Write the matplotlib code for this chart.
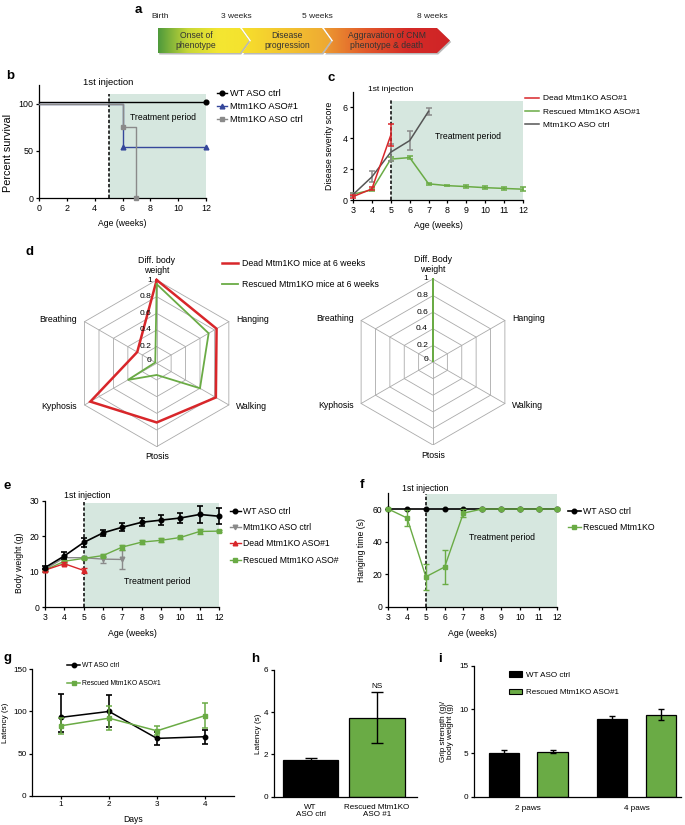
import numpy as np
import matplotlib
matplotlib.use("Agg")
import matplotlib.pyplot as plt
from matplotlib.patches import Polygon, Patch
from matplotlib.colors import LinearSegmentedColormap
from matplotlib.lines import Line2D

plt.rcParams['font.family'] = ['Liberation Sans', 'DejaVu Sans']
plt.rcParams['font.size'] = 6.2
plt.rcParams['axes.linewidth'] = 0.9

# ------------------------------------------------------------------ data
timeline_marks = ["Birth", "3 weeks", "5 weeks", "8 weeks"]
timeline_stages = ["Onset of\nphenotype", "Disease\nprogression",
                   "Aggravation of CNM\nphenotype & death"]

surv_labels = ["WT ASO ctrl", "Mtm1KO ASO#1", "Mtm1KO ASO ctrl"]
surv_wt_t = [0, 12]
surv_wt = [100, 100]
surv_aso1_t = [0, 6, 12]
surv_aso1 = [100, 54, 54]
surv_ctrl_t = [0, 6, 7]
surv_ctrl = [100, 75, 0]

sev_labels = ["Dead Mtm1KO ASO#1", "Rescued Mtm1KO ASO#1", "Mtm1KO ASO ctrl"]
sev_dead_wk = [3, 4, 5]
sev_dead = [0.22, 0.72, 4.2]
sev_dead_err = [0.08, 0.1, 0.7]
sev_resc_wk = [3, 4, 5, 6, 7, 8, 9, 10, 11, 12]
sev_resc = [0.38, 0.65, 2.65, 2.75, 1.05, 0.93, 0.87, 0.8, 0.75, 0.7]
sev_resc_err = [0.1, 0.06, 0.12, 0.12, 0.06, 0.03, 0.1, 0.1, 0.1, 0.12]
sev_ctrl_wk = [3, 4, 5, 6, 7]
sev_ctrl = [0.35, 1.5, 3.1, 3.85, 5.75]
sev_ctrl_err = [0.12, 0.35, 0.55, 0.6, 0.22]

radar_axes = ["Diff. body\nweight", "Hanging", "Walking", "Ptosis", "Kyphosis", "Breathing"]
radar_axes_right = ["Diff. Body\nweight", "Hanging", "Walking", "Ptosis", "Kyphosis", "Breathing"]
radar_labels = ["Dead Mtm1KO mice at 6 weeks", "Rescued Mtm1KO mice at 6 weeks"]
radar_dead6 = [1.0, 0.83, 0.82, 0.71, 0.92, 0.27]
radar_resc6 = [0.95, 0.72, 0.6, 0.14, 0.4, 0.02]
radar_resc_right = [1.0, 0.0, 0.0, 0.0, 0.0, 0.0]
radar_ticks = [0, 0.2, 0.4, 0.6, 0.8, 1]
radar_tick_labels = ["0", "0.2", "0.4", "0.6", "0.8", "1"]

bw_labels = ["WT ASO ctrl", "Mtm1KO ASO ctrl", "Dead Mtm1KO ASO#1", "Rescued Mtm1KO ASO#"]
bw_wt_wk = [3, 4, 5, 6, 7, 8, 9, 10, 11, 12]
bw_wt = [11.2, 14.5, 18.3, 21.0, 22.6, 24.0, 24.6, 25.2, 26.2, 25.7]
bw_wt_err = [0.5, 1.0, 1.3, 0.9, 1.2, 1.1, 1.4, 1.3, 2.5, 2.3]
bw_ctrl_wk = [3, 4, 5, 6, 7]
bw_ctrl = [10.7, 14.0, 14.0, 13.6, 13.5]
bw_ctrl_err = [0.3, 0.9, 0.3, 1.0, 2.8]
bw_dead_wk = [3, 4, 5]
bw_dead = [10.5, 12.3, 10.4]
bw_dead_err = [0.3, 0.4, 0.8]
bw_resc_wk = [3, 4, 5, 6, 7, 8, 9, 10, 11, 12]
bw_resc = [10.5, 13.0, 13.8, 14.6, 17.0, 18.4, 18.9, 19.7, 21.4, 21.5]
bw_resc_err = [0.3, 0.4, 0.3, 0.5, 0.7, 0.6, 0.6, 0.4, 0.7, 0.3]

hang_labels = ["WT ASO ctrl", "Rescued Mtm1KO"]
hang_wk = [3, 4, 5, 6, 7, 8, 9, 10, 11, 12]
hang_wt = [60, 60, 60, 60, 60, 60, 60, 60, 60, 60]
hang_resc = [60, 54.5, 18.5, 24.5, 57.5, 60, 60, 60, 60, 60]
hang_resc_err = [0.5, 5, 8, 10.5, 2.5, 0.5, 0.5, 0.5, 0.5, 0.5]

rot_labels = ["WT ASO ctrl", "Rescued Mtm1KO ASO#1"]
rot_days = [1, 2, 3, 4]
rot_wt = [93, 100, 68, 70]
rot_wt_err_lo = [17, 19, 8, 8.5]
rot_wt_err_hi = [28, 19, 8, 8.5]
rot_resc = [83, 92, 77, 95]
rot_resc_err = [9.5, 14, 5.5, 15]

lat_groups = ["WT\nASO ctrl", "Rescued Mtm1KO\nASO #1"]
lat_vals = [1.72, 3.75]
lat_err = [0.1, 1.2]

grip_groups = ["2 paws", "4 paws"]
grip_labels = ["WT ASO ctrl", "Rescued Mtm1KO ASO#1"]
grip_wt = [5.0, 8.95]
grip_wt_err = [0.3, 0.25]
grip_resc = [5.15, 9.4]
grip_resc_err = [0.2, 0.6]

treatment_period = (5, 12)
injection_week = 5

# ------------------------------------------------------------------ style
BLACK = "#000000"
GREEN = "#6aab45"
RED = "#d8262a"
BLUE = "#35479b"
GRAY = "#8a8a8a"
DGRAY = "#555555"
SHADE = "#d6e7df"
GRID = "#aaaaaa"

W, H = 685, 825
fig = plt.figure(figsize=(W / 100, H / 100), dpi=100)


def box(l, t, r, b):
    return [l / W, 1 - b / H, (r - l) / W, (b - t) / H]


def ftext(x, y, s, **kw):
    fig.text(x / W, 1 - y / H, s, **kw)


def style(ax, xlim, ylim, xticks, yticks, tfs=6.2):
    ax.set_xlim(*xlim)
    ax.set_ylim(*ylim)
    ax.set_xticks(xticks)
    ax.set_yticks(yticks)
    for s in ["top", "right"]:
        ax.spines[s].set_visible(False)
    for s in ["left", "bottom"]:
        ax.spines[s].set_linewidth(0.9)
    ax.tick_params(direction="out", length=2.5, width=0.9, labelsize=tfs, pad=1.5)


def legend_at(ax, handles, labels, x, y, fs=5.5, hl=1.4, ls=0.5, htp=0.5):
    ax.legend(handles, labels, loc="upper left", bbox_to_anchor=(x / W, 1 - y / H),
              bbox_transform=fig.transFigure, frameon=False, fontsize=fs,
              handlelength=hl, labelspacing=ls, handletextpad=htp, borderpad=0,
              borderaxespad=0, numpoints=1)


def treatment(ax, top, dash_top):
    ax.fill_between(treatment_period, 0, top, color=SHADE, lw=0, zorder=0)
    ax.vlines(injection_week, 0, dash_top, colors="k", linestyles=(0, (2.2, 1.3)),
              lw=1.1, zorder=1)


def letter(x, y, s):
    ftext(x, y, s, fontsize=9.5, fontweight="bold", va="center", ha="left")


def ylab(ax, s, xpix, frac, fs, **kw):
    ax.set_ylabel(s, fontsize=fs, **kw)
    l = ax.get_position().x0 * W
    ax.yaxis.set_label_coords((xpix - l) / (ax.get_position().width * W), frac)


# ------------------------------------------------------------------ a
axa = fig.add_axes([0, 1 - 70 / H, 1, 70 / H])
axa.axis("off")
chev = [
    [(158, 28), (240, 28), (249, 40.5), (240, 53), (158, 53)],
    [(242, 28), (322, 28), (331, 40.5), (322, 53), (242, 53), (251, 40.5)],
    [(324, 28), (437, 28), (450, 40.5), (437, 53), (324, 53), (333, 40.5)],
]
cmaps = [
    LinearSegmentedColormap.from_list("c1", ["#4e9a3c", "#c9d837", "#f4e631", "#f4e22e"]),
    LinearSegmentedColormap.from_list("c2", ["#f6e02c", "#f3c430", "#eea733"]),
    LinearSegmentedColormap.from_list("c3", ["#ec9b31", "#e2592b", "#d42a27", "#cf2426"]),
]
for pts, cm in zip(chev, cmaps):
    sh = Polygon([(x + 1.2, y + 1.5) for x, y in pts], closed=True, color="#b9b9b9", lw=0, zorder=1)
    axa.add_patch(sh)
    poly = Polygon(pts, closed=True, facecolor="none", edgecolor="none", zorder=3)
    axa.add_patch(poly)
    xs = [p[0] for p in pts]
    grad = np.linspace(0, 1, 256).reshape(1, -1)
    im = axa.imshow(grad, cmap=cm, extent=(min(xs), max(xs), 53, 28), aspect="auto", zorder=2)
    im.set_clip_path(poly)
axa.set_xlim(0, W)
axa.set_ylim(70, 0)
for s, xc in zip(timeline_stages, [196, 287, 387]):
    axa.text(xc, 40.5, s, ha="center", va="center", fontsize=6.2, color="#333333",
             linespacing=1.05, zorder=4)
for s, xc in zip(timeline_marks, [160, 236, 317, 432]):
    axa.text(xc, 16, s, ha="center", va="center", fontsize=6.0, color="#222222")
letter(135, 10, "a")

# ------------------------------------------------------------------ b
axb = fig.add_axes(box(39, 85, 206, 198))
style(axb, (0, 12), (0, 120), [0, 2, 4, 6, 8, 10, 12], [0, 50, 100], tfs=6.4)
treatment(axb, 110, 110)
axb.step(surv_aso1_t, surv_aso1, where="post", color=BLUE, lw=1.0, marker="^", ms=3.4,
         markevery=[1, 2], clip_on=False, zorder=3)
axb.step(surv_ctrl_t, surv_ctrl, where="post", color=GRAY, lw=1.0, marker="s", ms=3.4,
         markevery=[1, 2], clip_on=False, zorder=4)
axb.plot(surv_wt_t, [v + 1.5 for v in surv_wt], color=BLACK, lw=1.0, marker="o", ms=3.4,
         markevery=[1], clip_on=False, zorder=5)
axb.set_xlabel("Age (weeks)", fontsize=6.2, labelpad=4.5)
ylab(axb, "Percent survival", 8.5, 0.4, 7.8, va="center")
axb.text(injection_week, 122.5, "1st injection", ha="center", va="center", fontsize=6.8)
axb.text(8.9, 86, "Treatment period", ha="center", va="center", fontsize=6.2)
hb = [Line2D([], [], color=BLACK, marker="o", ms=3.4, lw=1),
      Line2D([], [], color=BLUE, marker="^", ms=3.4, lw=1),
      Line2D([], [], color=GRAY, marker="s", ms=3.4, lw=1)]
legend_at(axb, hb, surv_labels, 216.5, 89, fs=6.7, hl=1.1, ls=0.45, htp=0.35)
letter(6, 76, "b")

# ------------------------------------------------------------------ c
axc = fig.add_axes(box(353, 92, 523, 200))
style(axc, (3, 12), (0, 7), list(range(3, 13)), [0, 2, 4, 6], tfs=6.4)
treatment(axc, 6.4, 6.45)
axc.errorbar(sev_resc_wk, sev_resc, yerr=sev_resc_err, color=GREEN, lw=1.1, capsize=2,
             elinewidth=1.1, capthick=1.1, zorder=3, clip_on=False)
axc.errorbar(sev_ctrl_wk, sev_ctrl, yerr=sev_ctrl_err, color=DGRAY, ecolor=GRAY, lw=1.1,
             capsize=2.2, elinewidth=1.1, capthick=1.1, zorder=4, clip_on=False)
axc.errorbar(sev_dead_wk, sev_dead, yerr=sev_dead_err, color=RED, lw=1.1, capsize=2,
             elinewidth=1.1, capthick=1.1, zorder=5, clip_on=False)
axc.set_xlabel("Age (weeks)", fontsize=6.3, labelpad=4.5)
ylab(axc, "Disease severity score", 330, 0.5, 6.3, va="center")
axc.text(injection_week, 7.13, "1st injection", ha="center", va="center", fontsize=6.1)
axc.text(9.1, 4.1, "Treatment period", ha="center", va="center", fontsize=6.2)
hc = [Line2D([], [], color=RED, lw=1.1), Line2D([], [], color=GREEN, lw=1.1),
      Line2D([], [], color=DGRAY, lw=1.1)]
legend_at(axc, hc, sev_labels, 525, 94.6, fs=6.0, hl=1.7, ls=0.67, htp=0.48)
letter(327, 78, "c")

# ------------------------------------------------------------------ d (radar)
theta = np.arange(6) * 2 * np.pi / 6


def radar(ax, values_list, colors, lws, labels):
    ax.set_xlim(-1, 1)
    ax.set_ylim(-1, 1)
    ax.set_aspect("equal")
    ax.axis("off")
    sx, cy = np.sin(theta), np.cos(theta)
    for r in radar_ticks[1:]:
        ax.plot(np.append(r * sx, r * sx[0]), np.append(r * cy, r * cy[0]),
                color=GRID, lw=0.6, zorder=1)
    for a, b in zip(sx, cy):
        ax.plot([0, a], [0, b], color=GRID, lw=0.6, zorder=1)
    for vals, c, lw in zip(values_list, colors, lws):
        v = np.array(vals)
        ax.plot(np.append(v * sx, v[0] * sx[0]), np.append(v * cy, v[0] * cy[0]),
                color=c, lw=lw, zorder=3, solid_joinstyle="miter", clip_on=False)
    for v, t in zip(radar_ticks, radar_tick_labels):
        ax.text(-0.06, v + (0.03 if v == 0 else 0), t, ha="right", va="center",
                fontsize=6.1, zorder=4)
    fs = 6.3
    ax.text(0, 1.06, labels[0], ha="center", va="bottom", fontsize=fs, linespacing=1.1)
    ax.text(sx[1] + 0.09, cy[1] + 0.02, labels[1], ha="left", va="center", fontsize=fs)
    ax.text(sx[2] + 0.09, cy[2] - 0.02, labels[2], ha="left", va="center", fontsize=fs)
    ax.text(0, -1.07, labels[3], ha="center", va="top", fontsize=fs)
    ax.text(sx[4] - 0.09, cy[4] - 0.02, labels[4], ha="right", va="center", fontsize=fs)
    ax.text(sx[5] - 0.09, cy[5] + 0.02, labels[5], ha="right", va="center", fontsize=fs)


axd1 = fig.add_axes(box(73.4, 280, 240, 446.6))
radar(axd1, [radar_dead6, radar_resc6], [RED, GREEN], [1.8, 1.3], radar_axes)
axd2 = fig.add_axes(box(350, 279, 516, 445))
radar(axd2, [radar_resc_right], [GREEN], [1.1], radar_axes_right)
hd = [Line2D([], [], color=RED, lw=1.8), Line2D([], [], color=GREEN, lw=1.3)]
legend_at(axd1, hd, radar_labels, 221.5, 259.4, fs=6.3, hl=1.9, ls=1.28, htp=0.39)
letter(26, 252, "d")

# ------------------------------------------------------------------ e
axe = fig.add_axes(box(45, 501, 219, 607.3))
style(axe, (3, 12), (0, 30), list(range(3, 13)), [0, 10, 20, 30])
treatment(axe, 29.3, 30)
ekw = dict(capsize=2, elinewidth=1.0, capthick=1.0, ms=3.3, clip_on=False)
axe.errorbar(bw_ctrl_wk, bw_ctrl, yerr=bw_ctrl_err, color=GRAY, lw=1.0, marker="v", zorder=3, **ekw)
axe.errorbar(bw_resc_wk, bw_resc, yerr=bw_resc_err, color=GREEN, lw=1.0, marker="s", zorder=4, **ekw)
axe.errorbar(bw_dead_wk, bw_dead, yerr=bw_dead_err, color=RED, lw=1.0, marker="^", zorder=5, **ekw)
axe.errorbar(bw_wt_wk, bw_wt, yerr=bw_wt_err, color=BLACK, lw=1.2, marker="o", zorder=6,
             capsize=2.2, elinewidth=1.2, capthick=1.2, ms=3.3, clip_on=False)
axe.set_xlabel("Age (weeks)", fontsize=6.3, labelpad=5)
ylab(axe, "Body weight (g)", 20, 0.42, 6.2, va="center")
axe.text(5.2, 31.6, "1st injection", ha="center", va="center", fontsize=6.3)
axe.text(8.8, 7.2, "Treatment period", ha="center", va="center", fontsize=6.3)
he = [Line2D([], [], color=BLACK, marker="o", ms=3.3, lw=1),
      Line2D([], [], color=GRAY, marker="v", ms=3.3, lw=1),
      Line2D([], [], color=RED, marker="^", ms=3.3, lw=1),
      Line2D([], [], color=GREEN, marker="s", ms=3.3, lw=1)]
legend_at(axe, he, bw_labels, 230, 506.8, fs=6.2, hl=1.25, ls=0.85, htp=0.27)
letter(4, 486, "e")

# ------------------------------------------------------------------ f
axf = fig.add_axes(box(388.3, 492.7, 557.3, 607))
style(axf, (3, 12), (0, 70), list(range(3, 13)), [0, 20, 40, 60])
treatment(axf, 69, 69)
axf.errorbar(hang_wk, hang_wt, color=BLACK, lw=1.2, marker="o", ms=3.3, zorder=3, clip_on=False)
axf.errorbar(hang_wk, hang_resc, yerr=hang_resc_err, color=GREEN, lw=1.0, marker="s", ms=3.3,
             capsize=2, elinewidth=1.0, capthick=1.0, zorder=4, clip_on=False)
axf.set_xlabel("Age (weeks)", fontsize=6.3, labelpad=5)
ylab(axf, "Hanging time (s)", 361, 0.5, 6.2, va="center")
axf.text(4.95, 72.7, "1st injection", ha="center", va="center", fontsize=6.3)
axf.text(9.04, 42.7, "Treatment period", ha="center", va="center", fontsize=6.2)
hf = [Line2D([], [], color=BLACK, marker="o", ms=3.3, lw=1.2),
      Line2D([], [], color=GREEN, marker="s", ms=3.3, lw=1)]
legend_at(axf, hf, hang_labels, 568, 506.8, fs=6.3, hl=1.45, ls=0.82, htp=0.26)
letter(360, 485, "f")

# ------------------------------------------------------------------ g
axg = fig.add_axes(box(32.3, 669.3, 233.7, 795.7))
style(axg, (0.4, 4.6), (0, 150), [1, 2, 3, 4], [0, 50, 100, 150], tfs=5.9)
axg.errorbar(rot_days, rot_wt, yerr=[rot_wt_err_lo, rot_wt_err_hi], color=BLACK, lw=1.1,
             marker="o", ms=3.2, capsize=2.2, elinewidth=1.2, capthick=1.2, zorder=3)
axg.errorbar(rot_days, rot_resc, yerr=rot_resc_err, color=GREEN, lw=1.1, marker="s", ms=3.2,
             capsize=2.2, elinewidth=1.1, capthick=1.1, zorder=4)
axg.set_xlabel("Days", fontsize=6.2, labelpad=5)
ylab(axg, "Latency (s)", 6, 0.575, 5.9, va="center")
hg = [Line2D([], [], color=BLACK, marker="o", ms=3.2, lw=1.1),
      Line2D([], [], color=GREEN, marker="s", ms=3.2, lw=1.1)]
legend_at(axg, hg, rot_labels, 66.7, 662, fs=4.9, hl=2.0, ls=1.6, htp=0.25)
letter(3, 658, "g")

# ------------------------------------------------------------------ h
axh = fig.add_axes(box(274, 670, 417, 796.7))
style(axh, (-0.55, 1.6), (0, 6), [0, 1], [0, 2, 4, 6], tfs=5.9)
axh.bar([0, 1], lat_vals, width=0.83, color=[BLACK, GREEN], edgecolor="k", lw=0.9, zorder=2)
axh.errorbar([0, 1], lat_vals, yerr=lat_err, fmt="none", ecolor="k", elinewidth=1.0,
             capsize=4.5, capthick=1.0, zorder=3)
axh.set_xticklabels(lat_groups, fontsize=5.8, linespacing=1.15)
axh.tick_params(axis="x", length=0, pad=5)
ylab(axh, "Latency (s)", 258, 0.5, 5.9, va="center")
axh.text(1, lat_vals[1] + lat_err[1] + 0.12, "NS", ha="center", va="bottom", fontsize=5.9)
letter(251, 659, "h")

# ------------------------------------------------------------------ i
axi = fig.add_axes(box(474, 665.7, 681, 796.7))
style(axi, (-0.5, 1.41), (0, 15), [0, 1], [0, 5, 10, 15], tfs=5.9)
xg = np.arange(len(grip_groups))
axi.bar(xg - 0.2245, grip_wt, width=0.28, color=BLACK, edgecolor="k", lw=0.9, zorder=2)
axi.bar(xg + 0.2245, grip_resc, width=0.28, color=GREEN, edgecolor="k", lw=0.9, zorder=2)
axi.errorbar(xg - 0.2245, grip_wt, yerr=grip_wt_err, fmt="none", ecolor="k", elinewidth=1.0,
             capsize=2.5, capthick=1.0, zorder=3)
axi.errorbar(xg + 0.2245, grip_resc, yerr=grip_resc_err, fmt="none", ecolor="k", elinewidth=1.0,
             capsize=2.5, capthick=1.0, zorder=3)
axi.set_xticklabels(grip_groups, fontsize=5.9)
axi.tick_params(axis="x", length=0, pad=6)
ylab(axi, "Grip strength (g)/\nbody weight (g)", 447, 0.5, 5.9, va="center", linespacing=1.1)
hi = [Patch(facecolor=BLACK, edgecolor="k", lw=0.8), Patch(facecolor=GREEN, edgecolor="k", lw=0.8)]
legend_at(axi, hi, grip_labels, 509, 671.4, fs=5.8, hl=1.6, ls=1.18, htp=0.5)
letter(438, 659, "i")

fig.savefig("out.png", dpi=100)
